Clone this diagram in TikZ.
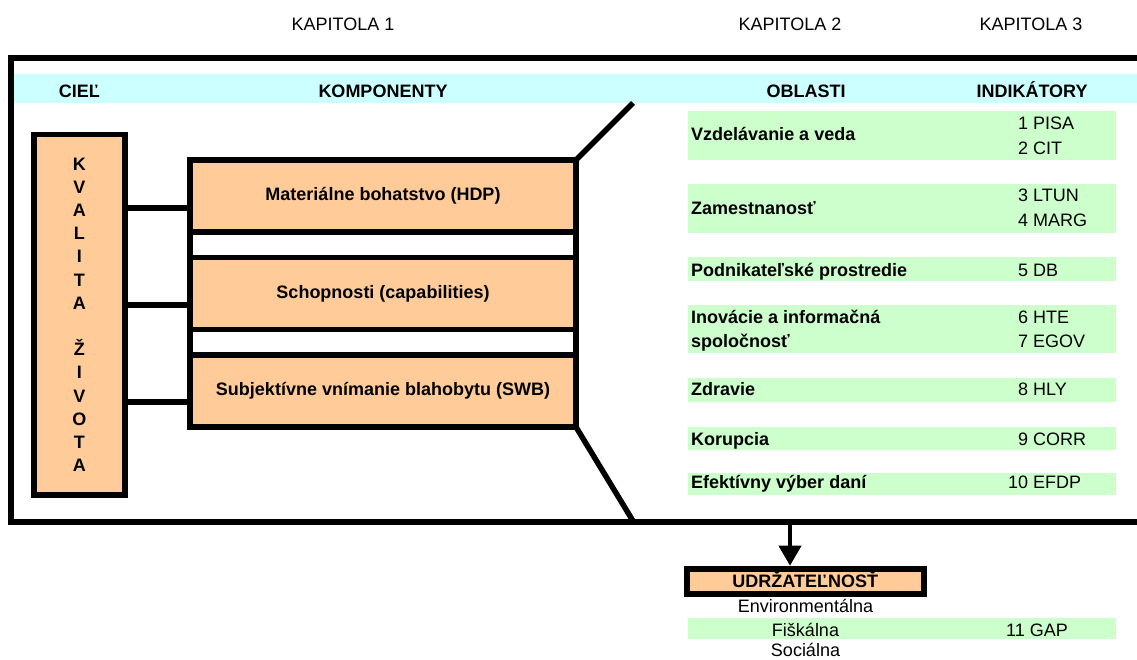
\documentclass[tikz,border=0pt]{standalone}
\usepackage{fontspec}
\setmainfont{Liberation Sans}
\usetikzlibrary{arrows.meta}
\definecolor{peach}{HTML}{FFCC99}
\definecolor{headband}{HTML}{CCFFFF}
\definecolor{rowband}{HTML}{CCFFCC}

\begin{document}
\begin{tikzpicture}
	[x=1pt, y=-1pt, font=\fontsize{18}{22}\selectfont,
	frame/.style={line width=5.5pt},
	block/.style={rectangle, draw, line width=5.5pt, outer sep=0pt, fill=peach, minimum width=386pt, minimum height=72pt, font=\fontsize{18}{22}\selectfont\bfseries},
	goal/.style={rectangle, draw, line width=5.5pt, fill=peach, minimum width=90.7pt, minimum height=360.5pt, align=center, font=\fontsize{18}{23.2}\selectfont\bfseries},
	head/.style={anchor=base, font=\fontsize{18}{22}\selectfont\bfseries},
	band/.style={rectangle, fill=rowband, minimum width=428pt, inner sep=0pt},
	area/.style={anchor=base west, align=left, inner xsep=0pt, font=\fontsize{18}{24.5}\selectfont\bfseries},
	ind/.style={anchor=base west, inner xsep=0pt},
	plain/.style={anchor=base},
	pointer/.style={line width=4pt, -{Triangle[width=22pt,length=20pt]}}]
	\useasboundingbox (0,0) rectangle (1137,659);

	% chapters
	\node[plain] (kap1) at (343,30.5) {KAPITOLA 1};
	\node[plain] (kap2) at (790,30.5) {KAPITOLA 2};
	\node[plain] (kap3) at (1031,30.5) {KAPITOLA 3};

	% frame and header band
	\fill[headband] (13.75,74) rectangle (1137,102.7);
	\draw[frame] (1140,58) -| (11,522) -- (1140,522);
	\node[head] (ciel) at (79.4,97.7) {CIEĽ};
	\node[head] (komp) at (383,97.7) {KOMPONENTY};
	\node[head] (obl) at (806,97.7) {OBLASTI};
	\node[head] (indik) at (1032,97.7) {INDIKÁTORY};

	% goal and components
	\node[goal] (kvalita) at (79.4,314.75) {K\\V\\A\\L\\I\\T\\A\\ \\Ž\\I\\V\\O\\T\\A};
	\node[block] (hdp) at (383,196) {Materiálne bohatstvo (HDP)};
	\node[block] (capab) at (383,293.5) {Schopnosti (capabilities)};
	\node[block] (swb) at (383,391) {Subjektívne vnímanie blahobytu (SWB)};
	\draw[frame] (hdp.north west) rectangle (swb.south east);
	\coordinate (c1) at ([yshift=-12pt]hdp.west);
	\coordinate (c2) at ([yshift=-11.5pt]capab.west);
	\coordinate (c3) at ([yshift=-11pt]swb.west);
	\draw[frame] (kvalita.east |- c1) -- (c1);
	\draw[frame] (kvalita.east |- c2) -- (c2);
	\draw[frame] (kvalita.east |- c3) -- (c3);
	\coordinate (zoomtop) at (633,103);
	\coordinate (zoombot) at (633,521);
	\draw[frame] (hdp.north east) -- (zoomtop);
	\draw[frame] (swb.south east) -- (zoombot);

	% areas and indicators
	\node[band, minimum height=49pt] (r1) at (902,135.4) {};
	\node[band, minimum height=49pt] (r2) at (902,208.5) {};
	\node[band, minimum height=24pt] (r3) at (902,269) {};
	\node[band, minimum height=48pt] (r4) at (902,329) {};
	\node[band, minimum height=24pt] (r5) at (902,390) {};
	\node[band, minimum height=23.3pt] (r6) at (902,438.3) {};
	\node[band, minimum height=22pt] (r7) at (902,484) {};
	\node[area] (a1) at (691,140.7) {Vzdelávanie a veda};
	\node[ind] (i1) at (1018,129.3) {1 PISA};
	\node[ind] (i2) at (1018,154.3) {2 CIT};
	\node[area] (a2) at (691,214) {Zamestnanosť};
	\node[ind] (i3) at (1018,201) {3 LTUN};
	\node[ind] (i4) at (1018,226) {4 MARG};
	\node[area] (a3) at (691,276) {Podnikateľské prostredie};
	\node[ind] (i5) at (1018,276) {5 DB};
	\node[area] (a4) at (691,347.7) {Inovácie a informačná\\spoločnosť};
	\node[ind] (i6) at (1018,323.3) {6 HTE};
	\node[ind] (i7) at (1018,347.7) {7 EGOV};
	\node[area] (a5) at (691,395) {Zdravie};
	\node[ind] (i8) at (1018,395) {8 HLY};
	\node[area] (a6) at (691,445.7) {Korupcia};
	\node[ind] (i9) at (1018,445.7) {9 CORR};
	\node[area] (a7) at (691,488) {Efektívny výber daní};
	\node[ind] (i10) at (1008,488) {10 EFDP};

	% sustainability
	\node[rectangle, draw, line width=6pt, fill=peach, minimum width=236.7pt, minimum height=25pt, inner sep=0pt, text height=13pt, text depth=0pt, font=\fontsize{18}{22}\selectfont\bfseries] (udrz) at (805.3,581.2) {UDRŽATEĽNOSŤ};
	\draw[pointer] (kap2 |- zoombot) -- (kap2 |- udrz.north);
	\node[band, minimum height=21pt] (r8) at (902,628.5) {};
	\node[plain] (env) at (805.5,612.7) {Environmentálna};
	\node[plain] (fis) at (805.5,636) {Fiškálna};
	\node[ind] (i11) at (1006,636) {11 GAP};
	\node[plain] (soc) at (805.5,656) {Sociálna};
\end{tikzpicture}
\end{document}
